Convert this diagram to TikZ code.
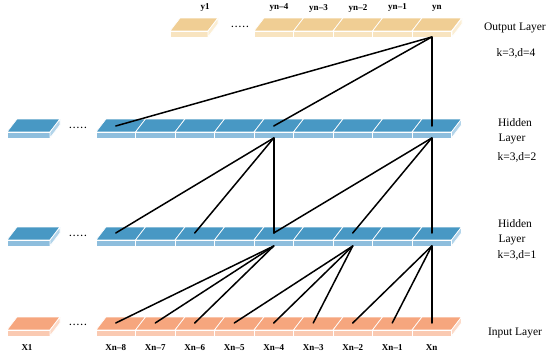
\documentclass[tikz,border=0pt]{standalone}
\usepackage{fontspec}
\setmainfont{Liberation Serif}
\definecolor{outTop}{RGB}{240,206,148}
\definecolor{outFront}{RGB}{248,228,192}
\definecolor{outSide}{RGB}{251,238,212}
\definecolor{hidTop}{RGB}{72,152,196}
\definecolor{hidFront}{RGB}{142,190,221}
\definecolor{hidSide}{RGB}{178,212,234}
\definecolor{inTop}{RGB}{246,166,126}
\definecolor{inFront}{RGB}{250,202,178}
\definecolor{inSide}{RGB}{252,218,200}
\def\slk{10}
\def\slh{13}
\def\slf{6}
\newcommand{\mkcell}[5]{%
  \path[fill=#4,draw=white,line width=0.7pt] (#1,#2) -- ++(#3,0) -- ++(\slk,-\slh) -- ++(-#3,0) -- cycle;
  \path[fill=#5,draw=white,line width=0.7pt] (#1,#2) rectangle ++(#3,\slf);
}
\newcommand{\mkside}[3]{%
  \path[fill=#3,draw=white,line width=0.7pt] (#1,#2) -- ++(\slk,-\slh) -- ++(0,\slf) -- ++(-\slk,\slh) -- cycle;
}
\tikzset{
  link/.style={black,line width=1.5pt,line cap=round},
  idx/.style={font=\bfseries\fontsize{9}{10}\selectfont,inner sep=0pt},
  side/.style={font=\fontsize{11.5}{13}\selectfont,inner sep=0pt},
  dots/.style={font=\bfseries\fontsize{9}{10}\selectfont,inner sep=0pt}
}
\begin{document}
\begin{tikzpicture}[x=1pt,y=-1pt]
\useasboundingbox[fill=white] (0,0) rectangle (550,356);
% ---------- Output layer ----------
\mkcell{170}{31}{38}{outTop}{outFront}
\mkside{208}{31}{outSide}
\node[idx] (ly1) at (205,8) {y1};
\node[dots] (odots) at (240,27) {.\,.\,.\,.\,.};
\foreach \i/\lab in {5/yn–4,6/yn–3,7/yn–2,8/yn–1,9/yn} {
  \pgfmathsetmacro\xo{96+(\i-1)*39.5}
  \mkcell{\xo}{31}{39.5}{outTop}{outFront}
  \coordinate (out-\i-b) at (\xo+19.75,31+\slf);
  \node[idx] (lout-\i) at (\xo+25,8) {\lab};
}
\mkside{452}{31}{outSide}
% ---------- Hidden layer 2 ----------
\mkcell{7}{132}{43}{hidTop}{hidFront}
\mkside{50}{132}{hidSide}
\node[dots] (h2dots) at (78,128) {.\,.\,.\,.\,.};
\foreach \i in {1,...,9} {
  \pgfmathsetmacro\xo{96+(\i-1)*39.5}
  \mkcell{\xo}{132}{39.5}{hidTop}{hidFront}
  \coordinate (h2-\i-t) at (\xo+19.75,132-6);
  \coordinate (h2-\i-b) at (\xo+19.75,132+\slf);
}
\mkside{451.5}{132}{hidSide}
% ---------- Hidden layer 1 ----------
\mkcell{7}{240}{43}{hidTop}{hidFront}
\mkside{50}{240}{hidSide}
\node[dots] (h1dots) at (78,236) {.\,.\,.\,.\,.};
\foreach \i in {1,...,9} {
  \pgfmathsetmacro\xo{96+(\i-1)*39.5}
  \mkcell{\xo}{240}{39.5}{hidTop}{hidFront}
  \coordinate (h1-\i-t) at (\xo+19.75,240-7);
  \coordinate (h1-\i-b) at (\xo+19.75,240+\slf);
}
\mkside{451.5}{240}{hidSide}
% ---------- Input layer ----------
\mkcell{7}{330}{43}{inTop}{inFront}
\mkside{50}{330}{inSide}
\node[dots] (idots) at (78,325) {.\,.\,.\,.\,.};
\node[idx] (lx1) at (27,348) {X1};
\foreach \i/\lab in {1/Xn–8,2/Xn–7,3/Xn–6,4/Xn–5,5/Xn–4,6/Xn–3,7/Xn–2,8/Xn–1,9/Xn} {
  \pgfmathsetmacro\xo{96+(\i-1)*39.5}
  \mkcell{\xo}{330}{39.5}{inTop}{inFront}
  \coordinate (in-\i-t) at (\xo+19.75,330-7);
  \node[idx] (lin-\i) at (\xo+19.75,348) {\lab};
}
\mkside{451.5}{330}{inSide}
% ---------- connections ----------
\foreach \j in {1,5,9} \draw[link] (out-9-b) -- (h2-\j-t);
\foreach \j in {1,3,5} \draw[link] (h2-5-b) -- (h1-\j-t);
\foreach \j in {5,7,9} \draw[link] (h2-9-b) -- (h1-\j-t);
\foreach \j in {1,2,3} \draw[link] (h1-5-b) -- (in-\j-t);
\foreach \j in {4,5,6} \draw[link] (h1-7-b) -- (in-\j-t);
\foreach \j in {7,8,9} \draw[link] (h1-9-b) -- (in-\j-t);
% ---------- side labels ----------
\node[side] (tout) at (515,28) {Output Layer};
\node[side] (kout) at (516,53) {k=3,d=4};
\node[side] (th2a) at (515,123) {Hidden};
\node[side] (th2b) at (512,139) {Layer};
\node[side] (kh2) at (517,157) {k=3,d=2};
\node[side] (th1a) at (515,224) {Hidden};
\node[side] (th1b) at (512,240) {Layer};
\node[side] (kh1) at (517,255) {k=3,d=1};
\node[side] (tin) at (515,333) {Input Layer};
\end{tikzpicture}
\end{document}
